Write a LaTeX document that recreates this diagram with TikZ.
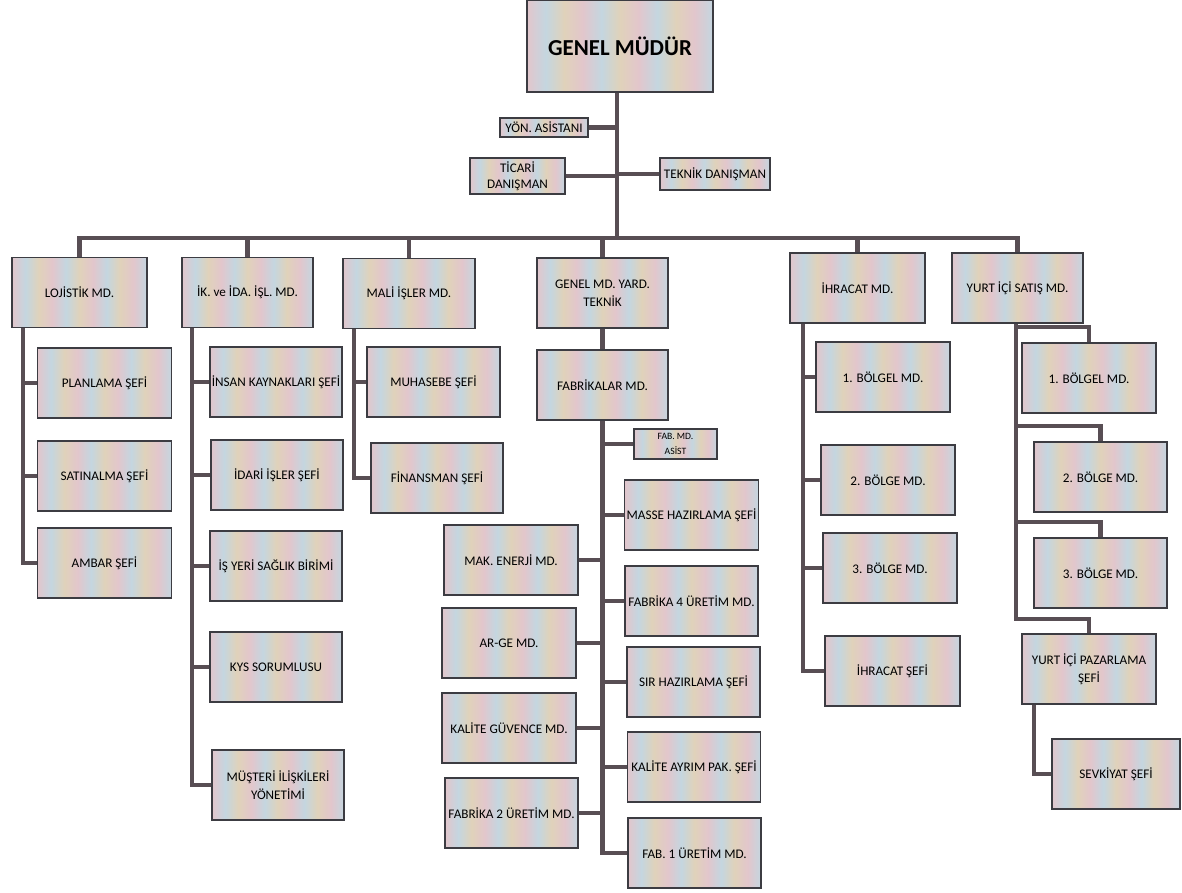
\documentclass[tikz,border=0pt]{standalone}
\usepackage{fontspec}
\setmainfont{Carlito}
\usepackage{tikz}

\definecolor{spink}{RGB}{226,198,204}
\definecolor{sblue}{RGB}{196,214,224}
\definecolor{stan}{RGB}{224,210,186}
\definecolor{boxline}{RGB}{60,60,66}
\definecolor{linkcol}{RGB}{88,78,84}
\pgfdeclarehorizontalshading{stripes}{100bp}{color(0bp)=(spink); color(25bp)=(spink);
  color(30bp)=(sblue); color(35bp)=(stan); color(40bp)=(spink); color(45bp)=(sblue);
  color(50bp)=(stan); color(55bp)=(spink); color(60bp)=(sblue); color(65bp)=(stan);
  color(70bp)=(spink); color(75bp)=(sblue); color(100bp)=(sblue)}

\begin{document}
\begin{tikzpicture}[x=0.02cm, y=-0.02cm,
      box/.style={draw=boxline, line width=0.7pt, shading=stripes,
        minimum width=2.68cm, minimum height=1.4cm, inner sep=1pt,
        align=center, font=\fontsize{7.5}{10.5}\selectfont},
      smallbox/.style={box, minimum height=0.38cm},
      link/.style={draw=linkcol, line width=2.3pt}]

      \useasboundingbox (0,0) rectangle (1182,892);

      \node[box, minimum width=3.72cm, minimum height=1.84cm,
        font=\fontsize{13}{15}\bfseries] (gm) at (620,46) {GENEL MÜDÜR};
      \node[smallbox, minimum width=1.76cm] (yon) at (544,127.5) {YÖN. ASİSTANI};
      \node[smallbox, minimum width=1.9cm, minimum height=0.72cm,
        font=\fontsize{7.5}{9}\selectfont] (ticari) at (517.5,176) {TİCARİ\\DANIŞMAN};
      \node[smallbox, minimum width=2.2cm, minimum height=0.64cm] (teknik) at (715,174) {TEKNİK DANIŞMAN};

      \node[box, minimum width=2.7cm] (loj) at (79.5,292.5) {LOJİSTİK MD.};
      \node[box, minimum width=2.62cm] (ik) at (247.5,292.5) {İK. ve İDA. İŞL. MD.};
      \node[box, minimum width=2.64cm] (mali) at (409,293.5) {MALİ İŞLER MD.};
      \node[box, minimum width=2.62cm] (gmy) at (602.5,293) {GENEL MD. YARD.\\TEKNİK};
      \node[box, minimum width=2.7cm] (ihr) at (857.5,288) {İHRACAT MD.};
      \node[box, minimum width=2.62cm] (yis) at (1017.5,288) {YURT İÇİ SATIŞ MD.};

      \node[box] (plan) at (104.5,383) {PLANLAMA ŞEFİ};
      \node[box] (satin) at (104.5,476) {SATINALMA ŞEFİ};
      \node[box] (ambar) at (104.5,563) {AMBAR ŞEFİ};

      \node[box, minimum width=2.64cm] (insan) at (276,382) {İNSAN KAYNAKLARI ŞEFİ};
      \node[box, minimum width=2.64cm] (idari) at (277,475) {İDARİ İŞLER ŞEFİ};
      \node[box, minimum width=2.64cm] (isyeri) at (276,566) {İŞ YERİ SAĞLIK BİRİMİ};
      \node[box, minimum width=2.64cm] (kys) at (276,667) {KYS SORUMLUSU};
      \node[box, minimum width=2.64cm] (musteri) at (278,785) {MÜŞTERİ İLİŞKİLERİ\\YÖNETİMİ};

      \node[box, minimum width=2.66cm] (muh) at (433.5,382) {MUHASEBE ŞEFİ};
      \node[box, minimum width=2.64cm] (fin) at (437,478) {FİNANSMAN ŞEFİ};

      \node[box, minimum width=2.62cm] (fab) at (602.5,385) {FABRİKALAR MD.};
      \node[smallbox, minimum width=1.66cm, minimum height=0.6cm,
        font=\fontsize{5.5}{9}\selectfont] (fabasist) at (675.5,444) {FAB. MD.\\ASİST};

      \node[box, minimum width=2.66cm] (masse) at (691.5,515) {MASSE HAZIRLAMA ŞEFİ};
      \node[box, minimum width=2.66cm] (fab4) at (691.5,601) {FABRİKA 4 ÜRETİM MD.};
      \node[box, minimum width=2.66cm] (sir) at (693.5,682) {SIR HAZIRLAMA ŞEFİ};
      \node[box, minimum width=2.66cm] (kalayr) at (694,767) {KALİTE AYRIM PAK. ŞEFİ};
      \node[box, minimum width=2.66cm] (fab1) at (694.5,853) {FAB. 1 ÜRETİM MD.};

      \node[box] (makener) at (511,560) {MAK. ENERJİ MD.};
      \node[box] (arge) at (509,643) {AR-GE MD.};
      \node[box] (kalguv) at (509,728) {KALİTE GÜVENCE MD.};
      \node[box, minimum width=2.66cm] (fab2) at (511.5,813) {FABRİKA 2 ÜRETİM MD.};

      \node[box] (ihr1) at (883,377) {1. BÖLGEL MD.};
      \node[box] (ihr2) at (888,480) {2. BÖLGE MD.};
      \node[box] (ihr3) at (890,568) {3. BÖLGE MD.};
      \node[box, minimum width=2.7cm] (ihrsef) at (892.5,671) {İHRACAT ŞEFİ};

      \node[box] (yis1) at (1089,378) {1. BÖLGEL MD.};
      \node[box, minimum width=2.66cm] (yis2) at (1100.5,477) {2. BÖLGE MD.};
      \node[box, minimum width=2.66cm] (yis3) at (1100.5,573) {3. BÖLGE MD.};
      \node[box] (yispaz) at (1089,669) {YURT İÇİ PAZARLAMA\\ŞEFİ};
      \node[box, minimum width=2.56cm] (sevk) at (1116,774) {SEVKİYAT ŞEFİ};

      \coordinate (bus) at (617,238);
      \coordinate (lojsp) at ([xshift=0.24cm]loj.south west);
      \coordinate (iksp) at ([xshift=0.22cm]ik.south west);
      \coordinate (malisp) at ([xshift=0.24cm]mali.south west);
      \coordinate (ihrsp) at ([xshift=0.28cm]ihr.south west);
      \coordinate (yissp) at ([xshift=1.3cm]yis.south west);

      \draw[link] (gm.south -| bus) -- (bus);
      \draw[link] (yon.east) -- (yon.east -| bus);
      \draw[link] (ticari.east) -- (ticari.east -| bus);
      \draw[link] (teknik.west) -- (teknik.west -| bus);
      \draw[link] (loj.north) |- (bus) -| (yis.north);
      \foreach \n in {ik,mali,gmy,ihr}
        \draw[link] (\n.north) -- (\n.north |- bus);

      \draw[link] (lojsp) |- (ambar.west);
      \foreach \n in {plan,satin}
        \draw[link] (\n.west) -- (\n.west -| lojsp);

      \draw[link] (iksp) |- (musteri.west);
      \foreach \n in {insan,idari,isyeri,kys}
        \draw[link] (\n.west) -- (\n.west -| iksp);

      \draw[link] (malisp) |- (fin.west);
      \draw[link] (muh.west) -- (muh.west -| malisp);

      \draw[link] (gmy.south) -- (fab.north);
      \draw[link] (fab.south) |- (fab1.west);
      \foreach \n in {fabasist,masse,fab4,sir,kalayr}
        \draw[link] (\n.west) -- (\n.west -| fab.south);
      \foreach \n in {makener,arge,kalguv,fab2}
        \draw[link] (\n.east) -- (\n.east -| fab.south);

      \draw[link] (ihrsp) |- (ihrsef.west);
      \foreach \n in {ihr1,ihr2,ihr3}
        \draw[link] (\n.west) -- (\n.west -| ihrsp);

      \draw[link] (yissp) |- ([yshift=0.28cm]yispaz.north) -- (yispaz.north);
      \foreach \n in {yis1,yis2,yis3}
        \draw[link] ([yshift=0.3cm]\n.north -| yissp) -| (\n.north);
      \draw[link] ([xshift=0.26cm]yispaz.south west) |- (sevk.west);
    \end{tikzpicture}
\end{document}
